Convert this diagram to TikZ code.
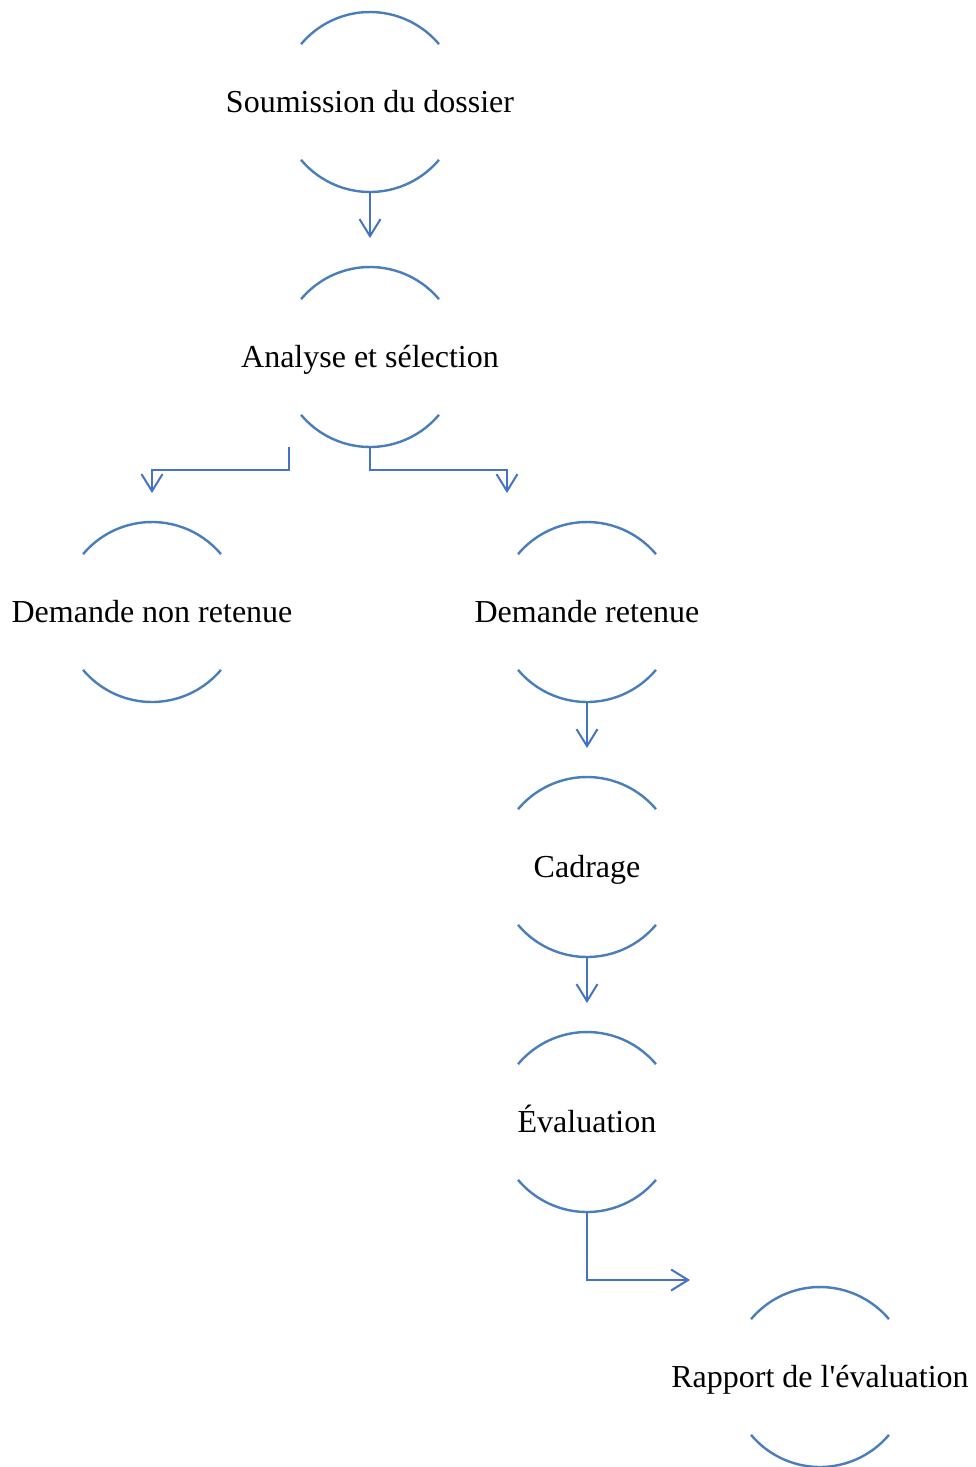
\documentclass[tikz,border=0pt]{standalone}
\usepackage{fontspec}
\setmainfont{Liberation Serif}[Ligatures=TeXOff]
\usetikzlibrary{arrows.meta}
\definecolor{arcblue}{HTML}{4A7EBB}
\definecolor{linkblue}{HTML}{4472C4}
\begin{document}
\begin{tikzpicture}[x=1pt,y=-1pt,
  label/.style={inner sep=0pt, anchor=base, font=\fontsize{32}{38}\selectfont},
  ring/.style={draw=arcblue, line width=2.4pt},
  link/.style={draw=linkblue, line width=2pt, -{Straight Barb[length=17pt,width=21pt,line width=2pt]}}]
\useasboundingbox (0,0) rectangle (976,1467);
\foreach \n/\cx/\cy in {s1/370/102,s2/370/357,s3/152/612,s4/587/612,s5/587/867,s6/587/1122,s7/820/1377}{
  \coordinate (\n c) at (\cx,\cy);
  \draw[ring] ([shift={(-40:90)}]\n c) arc[start angle=-40,end angle=-140,radius=90];
  \draw[ring] ([shift={(40:90)}]\n c) arc[start angle=40,end angle=140,radius=90];
}
\node[label] (s1) at ([yshift=-10.5pt]s1c) {Soumission du dossier};
\node[label] (s2) at ([yshift=-10.5pt]s2c) {Analyse et sélection};
\node[label] (s3) at ([yshift=-10.5pt]s3c) {Demande non retenue};
\node[label] (s4) at ([yshift=-10.5pt]s4c) {Demande retenue};
\node[label] (s5) at ([yshift=-10.5pt]s5c) {Cadrage};
\node[label] (s6) at ([yshift=-10.5pt]s6c) {Évaluation};
\node[label] (s7) at ([yshift=-10.5pt]s7c) {Rapport de l'évaluation};
% connector coordinates
\coordinate (b1) at ([yshift=-90pt]s1c);
\coordinate (e1) at (370,238);
\coordinate (b2) at ([yshift=-90pt]s2c);
\coordinate (b2l) at (289,447);
\coordinate (e3) at (152,493);
\coordinate (e4) at (507,493);
\coordinate (b4) at ([yshift=-90pt]s4c);
\coordinate (e5) at (587,748);
\coordinate (b5) at ([yshift=-90pt]s5c);
\coordinate (e6) at (587,1003);
\coordinate (b6) at ([yshift=-90pt]s6c);
\coordinate (e7) at (690,1280);
\draw[link] (b1) -- (e1);
\draw[link] (b2l) -- (289,470) -| (e3);
\draw[link] (b2) -- (370,470) -| (e4);
\draw[link] (b4) -- (e5);
\draw[link] (b5) -- (e6);
\draw[link] (b6) |- (e7);
\end{tikzpicture}
\end{document}
